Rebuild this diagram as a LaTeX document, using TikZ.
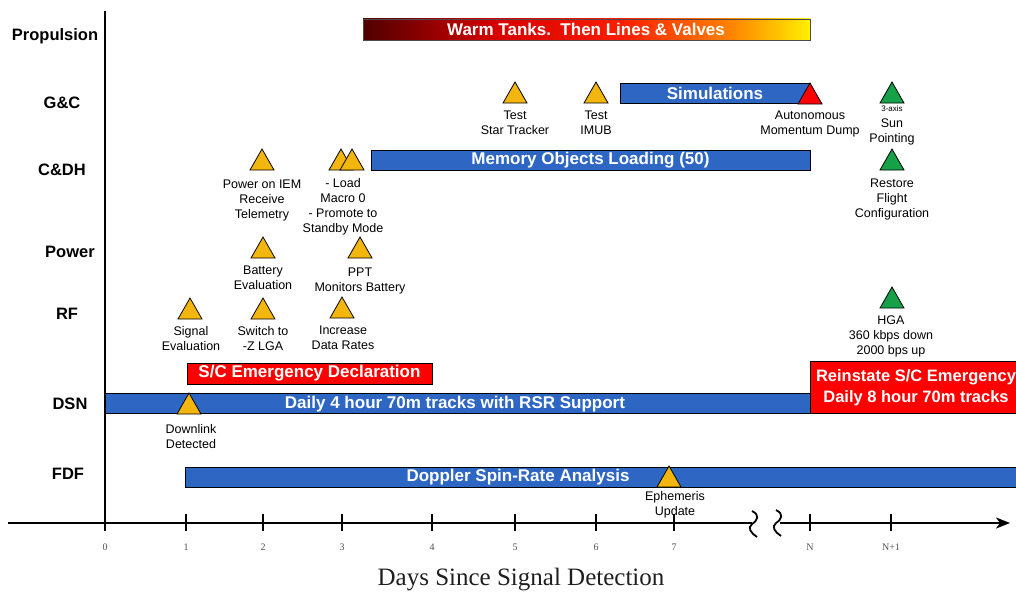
\documentclass[tikz,border=0pt]{standalone}
\usepackage{fontspec}
\setmainfont{Liberation Sans}
\newfontfamily\tmsfont{Liberation Serif}
\usetikzlibrary{arrows.meta}
\definecolor{barblue}{RGB}{46,102,196}
\definecolor{triyellow}{RGB}{243,182,14}
\definecolor{trigreen}{RGB}{22,160,72}
\definecolor{maroonA}{RGB}{80,0,0}
\definecolor{redA}{RGB}{215,0,0}
\definecolor{redB}{RGB}{250,30,0}
\definecolor{orangeB}{RGB}{255,130,0}
\definecolor{yellowB}{RGB}{255,240,0}
\definecolor{ticklab}{RGB}{80,80,80}
\pgfdeclarehorizontalshading{warm}{100bp}{color(0bp)=(maroonA); color(25bp)=(maroonA); color(40bp)=(redA); color(54bp)=(redB); color(66bp)=(orangeB); color(75bp)=(yellowB); color(100bp)=(yellowB)}
\newcommand{\tri}[4]{%
  \filldraw[fill=#4, draw=black, line width=0.8pt, line join=miter] (#2-12,#3+21) -- (#2,#3) -- (#2+12,#3+21) -- cycle;
  \coordinate (#1) at (#2,#3+21);}
\begin{document}
\begin{tikzpicture}[x=1pt,y=-1pt,
  rowlab/.style={font=\bfseries\fontsize{16.5}{18}\selectfont, inner sep=0pt},
  bar/.style={draw=black, line width=0.9pt, text=white, font=\bfseries\fontsize{17}{18}\selectfont, inner sep=0pt, minimum height=20pt},
  barlab/.style={text=white, font=\bfseries\fontsize{17}{18}\selectfont, inner sep=0pt},
  evlab/.style={align=center, anchor=north, inner sep=0pt, font=\fontsize{12.5}{15}\selectfont},
  ticklabel/.style={font=\tmsfont\fontsize{10}{11}\selectfont, text=ticklab, inner sep=0pt},
  tickmark/.style={line width=1.4pt}
]
\useasboundingbox (0,0) rectangle (1016,594);
\clip (0,0) rectangle (1016,594);

% row labels
\node[rowlab] (lprop) at (55,36) {Propulsion};
\node[rowlab] (lgc) at (62,103) {G\&C};
\node[rowlab] (lcdh) at (62,170) {C\&DH};
\node[rowlab] (lpow) at (70,252) {Power};
\node[rowlab] (lrf) at (67,314) {RF};
\node[rowlab] (ldsn) at (70,404) {DSN};
\node[rowlab] (lfdf) at (68,474) {FDF};

% axes
\coordinate (vtop) at (105,11);
\coordinate (origin) at (105,523);
\draw[line width=2pt] (vtop) -- (origin);
\coordinate (xstart) at (8,523);
\coordinate (brk1) at (752,523);
\coordinate (brk2) at (780,523);
\coordinate (xend) at (1010,523);
\draw[line width=2pt] (xstart) -- (brk1);
\draw[line width=2pt, -{Stealth[length=14pt,width=11pt,inset=4pt]}] (brk2) -- (xend);
\draw[line width=1.8pt] (752,511) .. controls (760,515) and (758,520) .. (752,524) .. controls (747,528) and (751,533) .. (757,537);
\draw[line width=1.8pt] (776,510) .. controls (784,514) and (782,519) .. (776,523) .. controls (771,527) and (775,532) .. (781,536);

% ticks
\foreach \xx/\lab/\nm in {105/0/t0,186/1/t1,263/2/t2,342/3/t3,432/4/t4,515/5/t5,596/6/t6,674/7/t7,810/N/tN,891/N+1/tN1}{
  \draw[tickmark] (\xx,514) -- (\xx,531);
  \node[ticklabel] (\nm) at (\xx,547) {\lab};
}
\node[font=\tmsfont\fontsize{25}{28}\selectfont, text=black!88, inner sep=0pt] (xtitle) at (521,580) {Days Since Signal Detection};

% bars
\node[bar, draw=black!70, minimum width=447pt, minimum height=21pt, shading=warm] (prop) at (586.5,29.5) {};
\node[barlab] (proplab) at (586,29.5) {Warm Tanks.\ \ Then Lines \& Valves};
\node[bar, fill=barblue, minimum width=190pt] (sim) at (715,93) {Simulations};
\node[bar, fill=barblue, minimum width=439pt] (mem) at (590.5,160) {Memory Objects Loading (50)};
\node[bar, fill=red, minimum width=245pt, minimum height=21pt] (emerg) at (309.5,373.5) {S/C Emergency Declaration};
\node[bar, fill=barblue, minimum width=705pt] (dsn) at (457.5,403.5) {};
\node[barlab] (dsnlab) at (455,404) {Daily 4 hour 70m tracks with RSR Support};
\node[bar, fill=red, minimum width=240pt, minimum height=52pt] (reinst) at (930,387) {};
\node[barlab, align=center, font=\bfseries\fontsize{16.5}{21}\selectfont] (reinstlab) at (916,388) {Reinstate S/C Emergency\\Daily 8 hour 70m tracks};
\node[bar, fill=barblue, minimum width=860pt] (fdf) at (615,477) {};
\node[barlab] (fdflab) at (518,477) {Doppler Spin-Rate Analysis};

% G&C events
\tri{tst}{515}{82}{triyellow}
\tri{timub}{596}{82}{triyellow}
\tri{tdump}{810}{83}{red}
\tri{tsun}{892}{82}{trigreen}
\node[evlab] (ltst) at (515,110.5) {Test\\Star Tracker};
\node[evlab] (ltimub) at (596,110.5) {Test\\IMUB};
\node[evlab] (ldump) at (810,110.5) {Autonomous\\Momentum Dump};
\node[inner sep=0pt, font=\fontsize{8}{8}\selectfont] (laxis) at (892,109) {3-axis};
\node[evlab] (lsun) at (892,119) {Sun\\Pointing};

% C&DH events
\tri{tiem}{262}{149}{triyellow}
\tri{tload}{341}{149}{triyellow}
\tri{tprom}{352}{149}{triyellow}
\tri{trest}{892}{149}{trigreen}
\node[evlab] (liem) at (262,179.5) {Power on IEM\\Receive\\Telemetry};
\node[evlab] (lload) at (343,178.5) {- Load\\Macro 0\\- Promote to\\Standby Mode};
\node[evlab] (lrest) at (892,178.5) {Restore\\Flight\\Configuration};

% Power events
\tri{tbat}{263}{237}{triyellow}
\tri{tppt}{360}{237}{triyellow}
\node[evlab] (lbat) at (263,265.5) {Battery\\Evaluation};
\node[evlab] (lppt) at (360,267.5) {PPT\\Monitors Battery};

% RF events
\tri{tsig}{190}{298}{triyellow}
\tri{tlga}{263}{298}{triyellow}
\tri{trate}{342}{297}{triyellow}
\tri{thga}{892}{287}{trigreen}
\node[evlab] (lsig) at (191,326.5) {Signal\\Evaluation};
\node[evlab] (llga) at (263,326.5) {Switch to\\-Z LGA};
\node[evlab] (lrate) at (343,325.5) {Increase\\Data Rates};
\node[evlab] (lhga) at (891,315.5) {HGA\\360 kbps down\\2000 bps up};

% DSN / FDF events
\tri{tdown}{189}{393}{triyellow}
\node[evlab] (ldown) at (191,424.5) {Downlink\\Detected};
\tri{teph}{669}{466}{triyellow}
\node[evlab] (leph) at (675,491.5) {Ephemeris\\Update};
\end{tikzpicture}
\end{document}
